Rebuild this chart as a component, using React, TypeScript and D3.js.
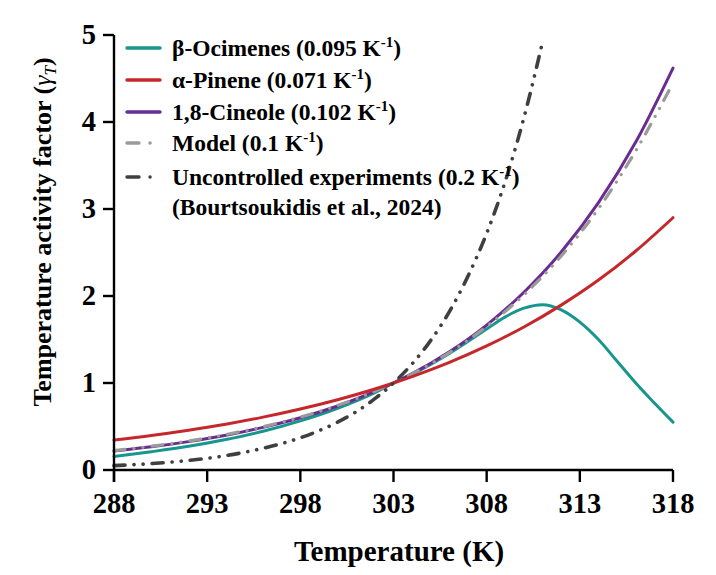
import React from "react";
import * as d3 from "d3";

// ---- data ----
const tempGrid = [288, 290, 292, 294, 296, 298, 300, 302, 303, 304, 306, 308, 310, 312, 314, 316, 318];
const pinene = [0.345, 0.397, 0.458, 0.527, 0.608, 0.701, 0.808, 0.931, 1.0, 1.074, 1.237, 1.426, 1.644, 1.895, 2.183, 2.517, 2.9];
const cineole = [0.217, 0.266, 0.326, 0.399, 0.49, 0.6, 0.736, 0.903, 1.0, 1.107, 1.358, 1.665, 2.043, 2.505, 3.073, 3.769, 4.62];
const model = [0.223, 0.273, 0.333, 0.407, 0.497, 0.607, 0.741, 0.905, 1.0, 1.105, 1.35, 1.649, 2.014, 2.46, 3.004, 3.669, 4.45];

const ocimeneTemps = [288, 290, 292, 294, 296, 298, 300, 302, 303, 304, 306, 308, 309, 310, 311, 312, 313, 314, 315, 316, 317, 318];
const ocimenes = [0.155, 0.21, 0.272, 0.35, 0.445, 0.565, 0.71, 0.89, 1.0, 1.1, 1.34, 1.62, 1.76, 1.86, 1.9, 1.84, 1.7, 1.5, 1.25, 1.0, 0.77, 0.55];

const uncontrolledTemps = [288, 290, 292, 294, 296, 298, 300, 301, 302, 303, 304, 305, 306, 307, 308, 309, 310, 311];
const uncontrolled = [0.05, 0.074, 0.11, 0.165, 0.25, 0.37, 0.55, 0.67, 0.82, 1.0, 1.22, 1.49, 1.82, 2.23, 2.72, 3.32, 4.05, 4.92];

const xTicks = [288, 293, 298, 303, 308, 313, 318];
const yTicks = [0, 1, 2, 3, 4, 5];

const legendItems = [
  { name: "β-Ocimenes", rate: "0.095" },
  { name: "α-Pinene", rate: "0.071" },
  { name: "1,8-Cineole", rate: "0.102" },
  { name: "Model", rate: "0.1" },
  { name: "Uncontrolled experiments", rate: "0.2" },
];
const legendNote = "(Bourtsoukidis et al., 2024)";

// ---- styles ----
const TEAL = "#17968e";
const RED = "#c4282b";
const PURPLE = "#6b2c90";
const GRAY = "#9a9a9a";
const DARK = "#3f3f3f";
const DASHDOTDOT = "11 9 0.1 9 0.1 9";
const FONT = "'Liberation Serif', 'Times New Roman', serif";

export default function App() {
  const x = d3.scaleLinear().domain([288, 318]).range([114, 673]);
  const y = d3.scaleLinear().domain([0, 5]).range([470, 35]);

  const mk = (ts: number[], vs: number[]) =>
    d3
      .line<number>()
      .x((_, i) => x(ts[i]))
      .y((v) => y(v))
      .curve(d3.curveMonotoneX)(vs) as string;

  const series = [
    { d: mk(ocimeneTemps, ocimenes), color: TEAL, dash: undefined, w: 3 },
    { d: mk(tempGrid, cineole), color: PURPLE, dash: undefined, w: 3 },
    { d: mk(tempGrid, model), color: GRAY, dash: DASHDOTDOT, w: 3.2 },
    { d: mk(tempGrid, pinene), color: RED, dash: undefined, w: 3 },
    { d: mk(uncontrolledTemps, uncontrolled), color: DARK, dash: DASHDOTDOT, w: 3.6 },
  ];
  const legendStyles = [
    { color: TEAL, dash: undefined },
    { color: RED, dash: undefined },
    { color: PURPLE, dash: undefined },
    { color: GRAY, dash: "12 11 0.1 20" },
    { color: DARK, dash: "12 11 0.1 20" },
  ];
  const legendY = [48, 80, 112, 143, 177];

  return (
    <div style={{ position: "absolute", left: 0, top: 0 }}>
      <svg width={716} height={575} style={{ display: "block", background: "#fff" }} fontFamily={FONT}>
        {/* curves */}
        <g fill="none" strokeLinecap="round" strokeLinejoin="round">
          {series.map((s, i) => (
            <path key={i} d={s.d} stroke={s.color} strokeWidth={s.w} strokeDasharray={s.dash} />
          ))}
        </g>

        {/* axes */}
        <g stroke="#000" strokeWidth={2.4} fill="none">
          <line x1={x(288)} x2={x(318)} y1={y(0)} y2={y(0)} />
          <line x1={x(288)} x2={x(288)} y1={y(0) + 12} y2={y(5)} />
          {xTicks.map((t) => (
            <line key={t} x1={x(t)} x2={x(t)} y1={y(0)} y2={y(0) + 12} />
          ))}
          {yTicks.map((t) => (
            <line key={t} x1={x(288) - 11} x2={x(288)} y1={y(t)} y2={y(t)} />
          ))}
        </g>
        <g fontWeight="bold" fontSize={28.5} fill="#000">
          {xTicks.map((t) => (
            <text key={t} x={x(t)} y={513} textAnchor="middle">
              {t}
            </text>
          ))}
          {yTicks.map((t) => (
            <text key={t} x={96} y={y(t) + 9} textAnchor="end">
              {t}
            </text>
          ))}
        </g>

        {/* axis titles */}
        <text x={399} y={561} textAnchor="middle" fontWeight="bold" fontSize={29}>
          Temperature (K)
        </text>
        <text transform={`translate(51,232) rotate(-90)`} textAnchor="middle" fontWeight="bold" fontSize={26}>
          Temperature activity factor (
          <tspan fontStyle="italic" fontWeight="normal">γ</tspan>
          <tspan fontStyle="italic" fontWeight="normal" fontSize={17} dy={5}>T</tspan>
          <tspan dy={-5}>)</tspan>
        </text>

        {/* legend */}
        <g fontWeight="bold" fontSize={23.5}>
          {legendItems.map((it, i) => (
            <g key={it.name}>
              <line
                x1={127}
                x2={160}
                y1={legendY[i]}
                y2={legendY[i]}
                stroke={legendStyles[i].color}
                strokeWidth={3.4}
                strokeLinecap="round"
                strokeDasharray={legendStyles[i].dash}
              />
              <text x={172} y={legendY[i] + 8}>
                {it.name} ({it.rate} K
                <tspan fontSize={15} dy={-9}>-1</tspan>
                <tspan dy={9}>)</tspan>
              </text>
            </g>
          ))}
          <text x={172} y={207 + 8}>
            {legendNote}
          </text>
        </g>
      </svg>
    </div>
  );
}
